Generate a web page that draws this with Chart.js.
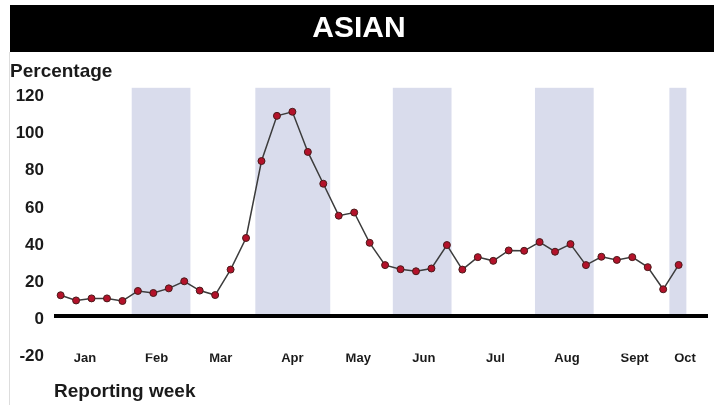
<!DOCTYPE html>
<html>
<head>
<meta charset="utf-8">
<script src="https://cdn.jsdelivr.net/npm/chart.js@4.4.1/dist/chart.umd.min.js"></script>
<style>
  html, body { margin: 0; padding: 0; background: #fff; }
</style>
</head>
<body>
<canvas id="chart" width="714" height="405"></canvas>
<script>
//----------------------------------DATA-----------------------------------------------------------

// weekly percentage, Jan -> Oct
const weekly_pct = [11.4, 8.6, 9.7, 9.7, 8.3, 13.7, 12.6, 15.1, 18.9, 13.9,
                    11.5, 25.2, 42.2, 83.6, 107.9, 110.1, 88.5, 71.4, 54.2, 55.9,
                    39.6, 27.6, 25.4, 24.3, 25.8, 38.4, 25.2, 31.9, 29.9, 35.5,
                    35.3, 40.0, 34.8, 38.9, 27.6, 32.1, 30.4, 31.9, 26.5, 14.6, 27.7]

const month_labels = ['Jan', 'Feb', 'Mar', 'Apr', 'May', 'Jun', 'Jul', 'Aug', 'Sept', 'Oct']
const month_pos = [1.57, 6.21, 10.36, 15.0, 19.26, 23.51, 28.14, 32.77, 37.15, 40.41]   // in week units

const y_ticks = [-20, 0, 20, 40, 60, 80, 100, 120]

// shaded months (week units)
const band_start = [4.6, 12.6, 21.5, 30.7, 39.4]
const band_end = [8.4, 17.45, 25.3, 34.5, 40.5]

//----------------------------------SETUP-----------------------------------------------------------

const FONT = "'Liberation Sans', Arial, sans-serif"
const TEXT = '#1a1a1a'
const BAND = '#d9dcec'

let points = weekly_pct.map((v, i) => ({x: i, y: v}))

// black title bar, left rule and shaded month bands
const backdrop = {
    id: 'backdrop',
    beforeDraw(chart) {
        const ctx = chart.ctx
        const tb = chart.titleBlock
        const {x, y} = chart.scales
        ctx.save()
        ctx.fillStyle = '#000'
        ctx.fillRect(tb.left, tb.top, chart.width - tb.left, tb.height)

        ctx.strokeStyle = '#dddddd'
        ctx.lineWidth = 1
        ctx.beginPath()
        ctx.moveTo(tb.left - 0.5, tb.bottom)
        ctx.lineTo(tb.left - 0.5, chart.height)
        ctx.stroke()

        ctx.fillStyle = BAND
        let top = y.getPixelForValue(y.max)
        let bottom = y.getPixelForValue(0)
        for (let i = 0; i < band_start.length; i++) {
            let x0 = x.getPixelForValue(band_start[i])
            let x1 = x.getPixelForValue(band_end[i])
            ctx.fillRect(x0, top, x1 - x0, bottom - top)
        }
        ctx.restore()
    }
}

new Chart(document.getElementById('chart'), {
    type: 'line',
    data: {
        datasets: [{
            data: points,
            borderColor: '#3c3c3c',
            borderWidth: 1.5,
            pointRadius: 3.5,
            pointBackgroundColor: '#b3122a',
            pointBorderColor: '#4a1a1a',
            pointBorderWidth: 1,
            tension: 0
        }]
    },
    options: {
        responsive: false,
        animation: false,
        layout: {padding: {top: 5, left: 10, right: 6, bottom: 0}},
        plugins: {
            legend: {display: false},
            tooltip: {enabled: false},
            title: {
                display: true,
                text: 'ASIAN',
                color: '#fff',
                font: {family: FONT, size: 30, weight: 'bold'},
                padding: {top: 5.5, bottom: 5.5}
            },
            subtitle: {
                display: true,
                text: 'Percentage',
                align: 'start',
                color: TEXT,
                font: {family: FONT, size: 19, weight: 'bold'},
                padding: {top: 8, bottom: 5}
            }
        },
        scales: {
            x: {
                type: 'linear',
                min: -0.43,
                max: 41.9,
                grid: {display: false, drawTicks: false},
                border: {display: false},
                afterBuildTicks: (scale) => { scale.ticks = month_pos.map(v => ({value: v})) },
                ticks: {
                    autoSkip: false,
                    maxRotation: 0,
                    padding: -3,
                    color: TEXT,
                    font: {family: FONT, size: 13, weight: 'bold'},
                    callback: (value, index) => month_labels[index]
                },
                title: {
                    display: true,
                    text: 'Reporting week',
                    align: 'start',
                    color: TEXT,
                    font: {family: FONT, size: 19, weight: 'bold'},
                    padding: {top: 17, bottom: 2}
                }
            },
            y: {
                min: -20,
                max: 123,
                afterBuildTicks: (scale) => { scale.ticks = y_ticks.map(v => ({value: v})) },
                afterFit: (scale) => { scale.width = 44 },
                border: {display: false},
                grid: {
                    drawTicks: false,
                    lineWidth: 4,
                    color: (c) => c.tick && c.tick.value === 0 ? '#000' : 'rgba(0,0,0,0)'
                },
                ticks: {
                    padding: 10,
                    labelOffset: 3,
                    color: TEXT,
                    font: {family: FONT, size: 17, weight: 'bold'}
                }
            }
        }
    },
    plugins: [backdrop]
})
</script>
</body>
</html>
